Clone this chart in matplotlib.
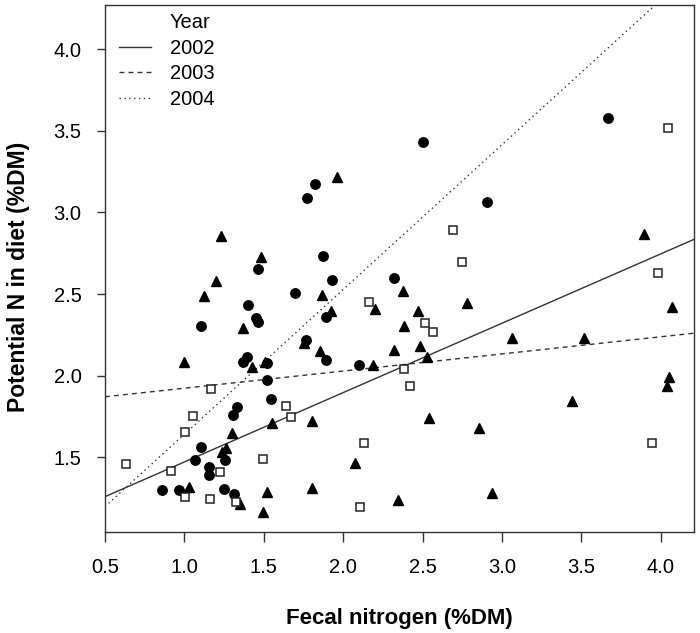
import numpy as np
import matplotlib
matplotlib.use('Agg')
import matplotlib.pyplot as plt
from matplotlib.lines import Line2D

plt.rcParams['font.family'] = ['Liberation Sans', 'DejaVu Sans']

# filled circles
circ_x = [0.861, 0.966, 1.069, 1.106, 1.105, 1.157, 1.157, 1.258, 1.251, 1.314,
          1.308, 1.329, 1.371, 1.396, 1.398, 1.451, 1.463, 1.518, 1.520, 1.543,
          1.462, 1.697, 1.770, 1.824, 1.873, 1.931, 1.889, 1.764, 1.889, 2.098,
          2.320, 2.500, 2.906, 3.666]
circ_y = [1.300, 1.300, 1.480, 1.563, 2.304, 1.439, 1.391, 1.482, 1.304, 1.273,
          1.761, 1.808, 2.083, 2.113, 2.433, 2.355, 2.327, 2.080, 1.972, 1.855,
          2.652, 2.505, 3.091, 3.175, 2.732, 2.588, 2.358, 2.219, 2.094, 2.066,
          2.600, 3.430, 3.066, 3.581]

# filled triangles
tri_x = [1.963, 1.230, 1.482, 1.201, 1.121, 1.866, 1.923, 1.367, 0.997, 1.424,
         1.508, 2.374, 2.200, 2.473, 2.383, 1.854, 1.755, 2.320, 2.484, 2.190,
         2.781, 4.072, 2.530, 3.063, 3.516, 4.053, 4.037, 3.443, 2.542, 2.853,
         2.935, 1.554, 1.802, 2.074, 1.522, 1.802, 1.497, 2.347, 1.299, 1.262,
         1.239, 1.031, 1.350, 3.892]
tri_y = [3.216, 2.856, 2.725, 2.580, 2.487, 2.496, 2.397, 2.294, 2.082, 2.052,
         2.086, 2.519, 2.409, 2.398, 2.306, 2.153, 2.198, 2.157, 2.184, 2.066,
         2.444, 2.419, 2.116, 2.233, 2.233, 1.994, 1.937, 1.847, 1.739, 1.678,
         1.283, 1.708, 1.724, 1.467, 1.289, 1.314, 1.167, 1.238, 1.647, 1.559,
         1.529, 1.316, 1.212, 2.866]

# open squares
sq_x = [0.632, 0.914, 1.006, 1.004, 1.052, 1.168, 1.161, 1.224, 1.325, 1.493,
        1.638, 1.671, 2.133, 2.106, 2.160, 2.383, 2.421, 2.515, 2.564, 2.691,
        2.748, 3.943, 4.045, 3.984]
sq_y = [1.459, 1.418, 1.259, 1.653, 1.755, 1.919, 1.246, 1.412, 1.228, 1.489,
        1.814, 1.749, 1.586, 1.194, 2.452, 2.041, 1.937, 2.325, 2.266, 2.891,
        2.695, 1.589, 3.518, 2.631]

# fitted lines per year
years = ['2002', '2003', '2004']
intercepts = [1.046, 1.818, 0.754]
slopes = [0.425, 0.105, 0.887]
styles = ['-', (0, (3.5, 3)), (0, (1, 2.5))]

fig = plt.figure(figsize=(7, 6.33), dpi=100)
ax = fig.add_axes([0.15, 0.1596, 0.8414, 0.8325])

ax.plot(circ_x, circ_y, 'o', color='black', ms=6.8, zorder=3)
ax.plot(tri_x, tri_y, '^', color='black', ms=7.5, zorder=3)
ax.plot(sq_x, sq_y, 's', mfc='white', mec='#222222', mew=1.1, ms=5.6, zorder=3)

handles = [Line2D([], [], color='none')]
for yr, b, m, ls in zip(years, intercepts, slopes, styles):
    ax.axline((0, b), slope=m, color='#333333', lw=1.0, ls=ls, zorder=2)
    handles.append(Line2D([], [], color='#333333', lw=1.0, ls=ls))

ax.legend(handles, ['Year'] + years, loc='upper left', bbox_to_anchor=(0.007, 1.003),
          frameon=False, fontsize=14.5, borderpad=0, handlelength=1.6,
          handletextpad=0.9, labelspacing=0.32)

ax.set_xlim(0.5, 4.209)
ax.set_ylim(1.042, 4.271)
ax.set_xticks(np.arange(0.5, 4.01, 0.5))
ax.set_yticks(np.arange(1.5, 4.01, 0.5))
ax.xaxis.set_major_formatter(matplotlib.ticker.FormatStrFormatter('%.1f'))
ax.yaxis.set_major_formatter(matplotlib.ticker.FormatStrFormatter('%.1f'))
ax.tick_params(axis='x', length=7, width=1, pad=12, labelsize=14.5, color='#333333')
ax.tick_params(axis='y', length=6, width=1, pad=11, labelsize=14.5, color='#333333')
for s in ax.spines.values():
    s.set_color('#333333')
    s.set_linewidth(1.0)

ax.set_xlabel('Fecal nitrogen (%DM)', fontsize=16, fontweight='bold', labelpad=22)
ax.set_ylabel('Potential N in diet (%DM)', fontsize=16.5, fontweight='bold', labelpad=18)
ax.yaxis.set_label_coords(-0.128, 0.484)

fig.savefig('out.png', dpi=100)
